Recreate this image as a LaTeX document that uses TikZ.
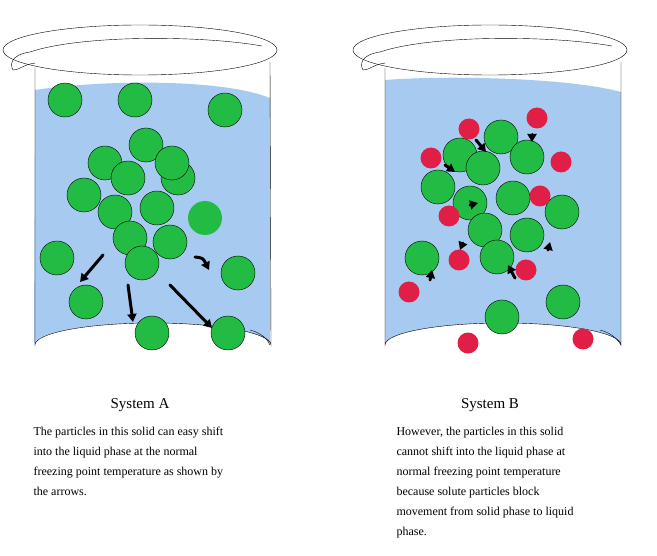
\documentclass[tikz,border=0pt]{standalone}
\usepackage{fontspec}
\setmainfont{Liberation Serif}
\usetikzlibrary{arrows.meta}
\definecolor{liquid}{RGB}{166,202,240}
\definecolor{solid}{RGB}{34,187,68}
\definecolor{solute}{RGB}{225,30,70}
\tikzset{
  big/.style={circle,draw=black,fill=solid,minimum size=34pt,inner sep=0pt},
  bigsoft/.style={circle,fill=solid,minimum size=34pt,inner sep=0pt},
  small/.style={circle,fill=solute,minimum size=21pt,inner sep=0pt},
  push/.style={-{Triangle[length=8pt,width=9pt]},line width=3pt,line cap=round},
  caption/.style={align=left,font=\fontsize{12}{20}\selectfont,anchor=north west},
  title/.style={font=\fontsize{15}{18}\selectfont}
}
\begin{document}
\begin{tikzpicture}[x=1pt,y=-1pt]
\useasboundingbox (0,0) rectangle (657,556);
% beaker A
\fill[liquid] (35,90) .. controls (100,80) and (220,78) .. (270,98) -- (270,345) arc (0:180:118 and -22) -- cycle;
\draw (35,68) -- (35,345) arc (180:360:118 and 22) -- (270,62);
\draw (140,50) ellipse (137 and 25);
\draw (30,52) .. controls (80,35) and (200,35) .. (262,46);
\draw (30,52) .. controls (10,55) and (10,65) .. (13,70) .. controls (20,70) and (22,65) .. (35,63);
\draw (250,330) .. controls (262,333) and (268,340) .. (270,345);
% solid A
\foreach \x/\y in {65/100,135/100,225/110,146/145,105/163,178/178,172/163,128/178,84/195,115/212,157/208,130/238,170/242,142/263,57/258,86/302,152/333,238/273,228/333}
  \node[big] at (\x,\y) {};
\node[bigsoft] (free) at (205,218) {};
\draw[push] (103,255) -- (80,282);
\draw[push] (128,285) .. controls (130,300) .. (133,322);
\draw[push] (170,285) -- (212,328);
\draw[push] (195,257) .. controls (203,258) .. (209,270);
% beaker B
\fill[liquid] (385,80) .. controls (450,75) and (570,78) .. (621,92) -- (621,345) arc (0:180:118 and -22) -- cycle;
\draw (385,68) -- (385,345) arc (180:360:118 and 22) -- (621,62);
\draw (490,50) ellipse (137 and 25);
\draw (380,52) .. controls (430,35) and (550,35) .. (612,46);
\draw (380,52) .. controls (360,55) and (360,65) .. (363,70) .. controls (370,70) and (372,65) .. (385,63);
\draw (600,330) .. controls (612,333) and (618,340) .. (621,345);
% solid B
\foreach \x/\y in {501/137,460/155,527/157,483/168,438/187,513/198,470/203,562/212,485/230,527/235,497/257,422/258,563/302,502/317}
  \node[big] at (\x,\y) {};
\foreach \x/\y in {469/129,537/118,431/158,561/162,540/196,449/216,459/260,526/270,409/292,468/343,583/339}
  \node[small] at (\x,\y) {};
\foreach \a/\b/\c/\d in {476/140/486/152,445/165/455/172,532/138/532/142,470/205/478/203,462/245/460/250,430/280/432/270,515/278/508/265,548/250/550/242}
  \draw[push] (\a,\b) -- (\c,\d);
% captions
\node[title] (titleA) at (140,405) {System A};
\node[caption] (textA) at (30,424) {The particles in this solid can easy shift\\into the liquid phase at the normal\\freezing point temperature as shown by\\the arrows.};
\node[title] (titleB) at (490,405) {System B};
\node[caption] (textB) at (393,424) {However, the particles in this solid\\cannot shift into the liquid phase at\\normal freezing point temperature\\because solute particles block\\movement from solid phase to liquid\\phase.};
\end{tikzpicture}
\end{document}
